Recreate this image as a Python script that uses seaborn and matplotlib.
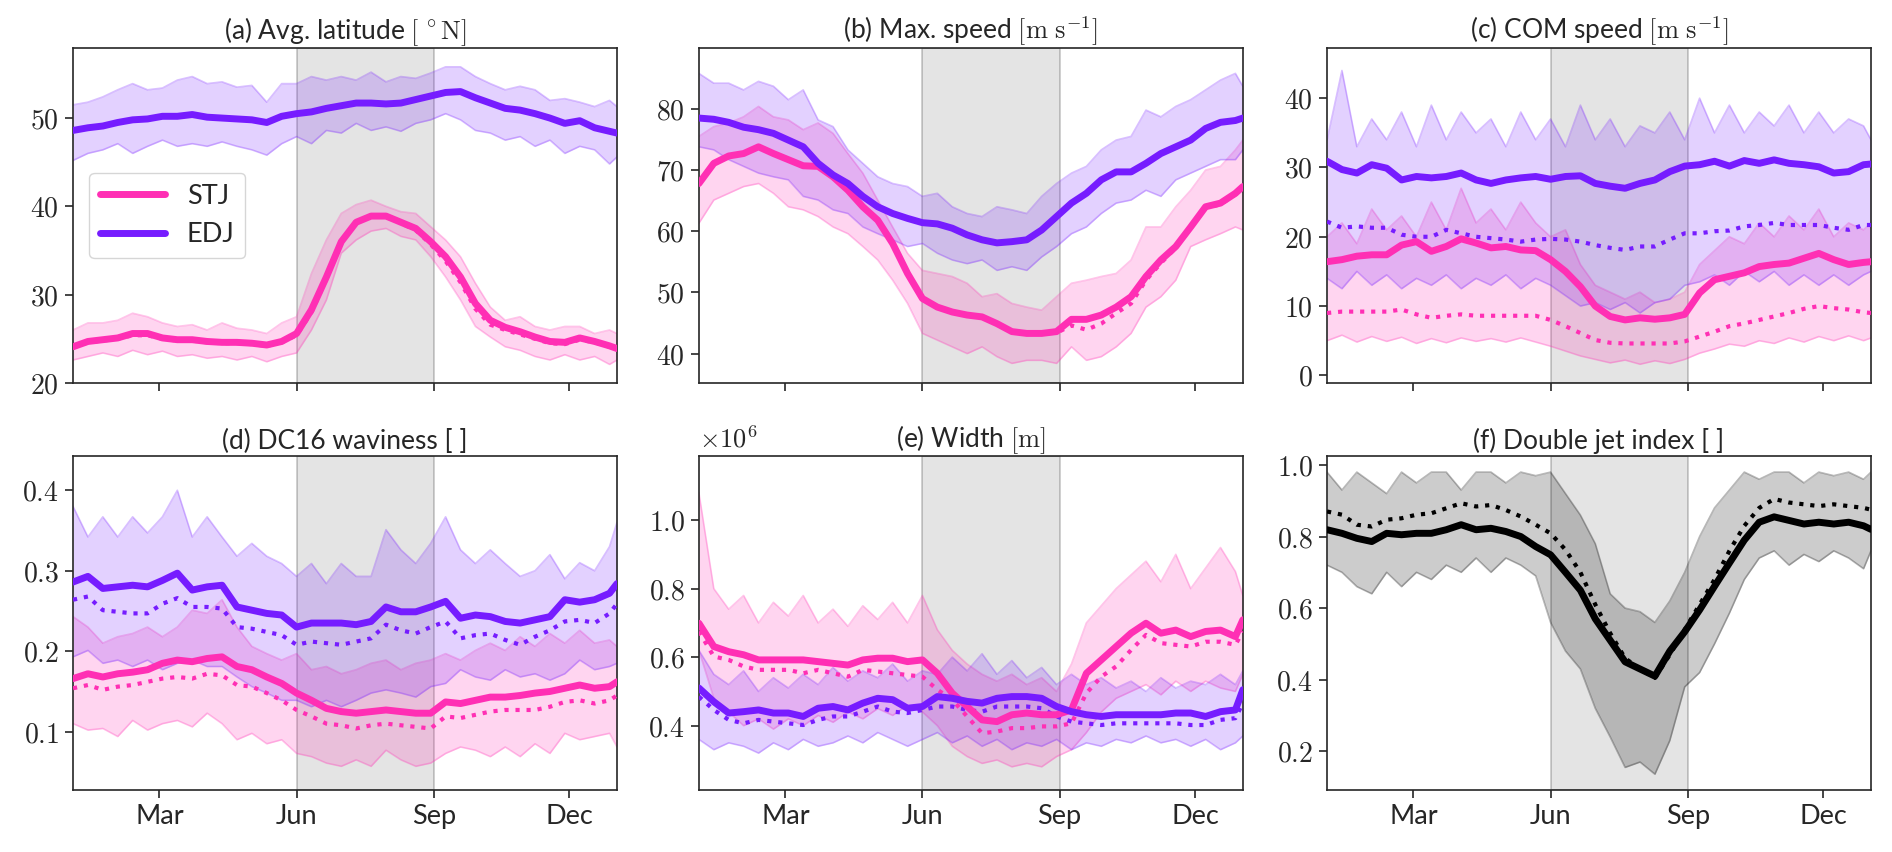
import matplotlib
matplotlib.use('Agg')
import matplotlib.pyplot as plt
from matplotlib.lines import Line2D
from matplotlib.ticker import FormatStrFormatter
import seaborn as sns
import pandas as pd

# Day of year sampled every ~10 days
days = [2, 12, 22, 32, 42, 52, 62, 72, 82, 92, 102, 112, 122, 132, 142, 152, 162, 172, 182,
        192, 202, 212, 222, 232, 242, 252, 262, 272, 282, 292, 302, 312, 322, 332, 342, 352, 362, 367]
month_ticks = [60, 152, 244, 335]
month_labels = ['Mar', 'Jun', 'Sep', 'Dec']
season = (152, 244)

# (a) average latitude
stj_lat_mean = [24.1, 24.7, 24.9, 25.1, 25.6, 25.6, 25.1, 24.9, 24.9, 24.7, 24.6, 24.6, 24.5, 24.3, 24.7, 25.6, 28.3, 32.0, 36.0,
                38.2, 38.9, 38.9, 38.2, 37.5, 36.0, 34.3, 32.0, 29.0, 27.1, 26.3, 25.8, 25.2, 24.7, 24.6, 25.1, 24.7, 24.2, 23.9]
stj_lat_med = [24.0, 24.6, 24.8, 25.0, 25.4, 25.4, 25.0, 24.8, 24.8, 24.6, 24.5, 24.5, 24.4, 24.2, 24.6, 25.4, 28.0, 31.8, 35.9,
               38.2, 38.9, 38.9, 38.1, 37.3, 35.7, 33.8, 31.4, 28.4, 26.6, 26.0, 25.5, 25.0, 24.5, 24.4, 24.9, 24.6, 24.1, 23.8]
stj_lat_hi = [26.0, 26.8, 26.8, 27.1, 27.9, 27.5, 26.8, 26.4, 26.6, 26.0, 26.8, 26.2, 26.0, 25.6, 26.8, 27.5, 32.4, 36.2, 39.2,
              40.2, 40.7, 40.0, 39.4, 39.2, 37.7, 36.2, 34.3, 31.3, 28.6, 27.1, 27.5, 26.4, 26.0, 26.4, 26.4, 25.6, 26.0, 25.6]
stj_lat_lo = [22.6, 23.0, 23.4, 23.0, 23.7, 23.2, 23.6, 23.0, 23.2, 22.8, 23.0, 22.6, 23.0, 22.4, 23.0, 23.4, 26.0, 29.4, 34.7,
              36.2, 37.2, 37.5, 36.6, 36.2, 34.3, 32.0, 29.4, 26.4, 25.2, 24.1, 23.7, 23.0, 22.6, 23.2, 22.6, 23.0, 22.1, 22.6]
edj_lat_mean = [48.6, 48.9, 49.1, 49.5, 49.8, 49.9, 50.2, 50.2, 50.4, 50.1, 50.0, 49.9, 49.8, 49.5, 50.2, 50.5, 50.7, 51.1, 51.4,
                51.7, 51.7, 51.6, 51.7, 52.1, 52.5, 52.9, 53.0, 52.3, 51.7, 51.1, 50.9, 50.5, 50.0, 49.4, 49.7, 48.9, 48.5, 48.3]
edj_lat_med = edj_lat_mean
edj_lat_hi = [51.5, 51.8, 52.4, 53.2, 53.9, 53.2, 53.4, 54.3, 54.7, 53.9, 54.1, 53.5, 53.7, 51.8, 53.9, 53.9, 54.7, 54.3, 54.7,
              54.3, 55.2, 54.1, 54.7, 54.5, 55.1, 55.8, 55.8, 54.7, 53.9, 53.2, 53.6, 53.2, 52.0, 52.2, 51.8, 51.3, 52.0, 51.3]
edj_lat_lo = [45.2, 46.0, 46.4, 47.1, 46.0, 46.8, 47.5, 46.8, 47.1, 46.8, 47.3, 46.8, 46.4, 45.8, 47.1, 47.9, 47.1, 48.6, 48.3,
              49.4, 48.6, 49.0, 48.5, 49.4, 49.8, 50.5, 49.8, 48.6, 48.3, 47.5, 47.9, 46.8, 47.5, 46.0, 46.8, 46.4, 44.8, 45.6]

# (b) max speed
stj_spd_mean = [67.8, 71.1, 72.3, 72.7, 73.8, 72.7, 71.7, 70.7, 70.6, 68.9, 66.7, 64.0, 61.8, 58.0, 53.1, 49.0, 47.6, 46.8, 46.3,
                46.0, 44.9, 43.6, 43.3, 43.3, 43.6, 45.6, 45.6, 46.3, 47.6, 49.3, 52.6, 55.3, 57.5, 60.7, 64.0, 64.6, 66.2, 67.3]
stj_spd_med = [67.8, 71.1, 72.3, 72.7, 73.8, 72.7, 71.7, 70.7, 70.6, 68.9, 66.7, 64.0, 61.8, 58.0, 53.1, 49.0, 47.6, 46.8, 46.3,
               46.0, 44.9, 43.6, 43.3, 43.3, 43.4, 44.6, 43.9, 44.9, 46.6, 48.2, 52.0, 54.8, 57.3, 60.5, 63.8, 64.4, 66.0, 67.1]
stj_spd_hi = [75.5, 77.1, 77.7, 78.7, 80.4, 78.7, 78.2, 76.6, 77.7, 76.0, 72.7, 69.5, 65.1, 60.7, 56.4, 53.6, 53.1, 52.6, 51.5,
              49.3, 49.8, 48.2, 47.6, 47.1, 49.3, 51.5, 52.0, 52.6, 53.1, 55.3, 60.7, 60.7, 64.0, 66.7, 70.0, 70.6, 73.3, 74.9]
stj_spd_lo = [61.3, 65.1, 66.2, 67.3, 67.8, 66.2, 64.0, 63.5, 62.4, 60.7, 59.6, 57.5, 55.3, 52.0, 48.2, 43.3, 42.2, 41.1, 40.0,
              41.1, 39.5, 38.4, 38.9, 38.9, 38.4, 41.1, 38.9, 39.5, 41.1, 43.3, 47.6, 49.3, 52.0, 57.5, 58.6, 59.6, 60.7, 60.2]
edj_spd_mean = [78.5, 78.3, 77.8, 77.0, 76.6, 76.0, 74.9, 73.8, 71.1, 69.2, 67.8, 65.7, 64.0, 62.9, 62.1, 61.4, 61.2, 60.5, 59.4,
                58.6, 58.1, 58.3, 58.6, 60.2, 62.4, 64.6, 66.2, 68.4, 69.7, 69.7, 71.1, 72.7, 73.8, 74.9, 76.8, 77.8, 78.1, 78.5]
edj_spd_med = edj_spd_mean
edj_spd_hi = [85.8, 84.2, 84.2, 83.1, 84.5, 83.7, 81.5, 83.1, 78.2, 77.1, 73.3, 71.1, 68.9, 67.8, 67.3, 65.7, 66.2, 64.0, 62.9,
              62.4, 64.0, 63.5, 62.9, 65.7, 67.8, 69.5, 70.6, 73.3, 74.9, 75.5, 79.8, 78.7, 80.4, 81.5, 83.1, 84.7, 85.8, 83.7]
edj_spd_lo = [73.8, 73.3, 71.7, 70.6, 69.5, 68.9, 68.4, 65.7, 65.1, 63.5, 62.9, 60.7, 59.6, 58.6, 57.5, 58.0, 56.4, 55.3, 54.7,
              55.3, 53.6, 54.2, 53.6, 55.8, 57.5, 59.6, 60.7, 62.9, 64.6, 65.1, 66.7, 65.7, 68.4, 69.5, 70.6, 71.7, 71.7, 73.3]

# (c) COM speed
stj_com_mean = [16.4, 16.7, 17.2, 17.4, 17.4, 18.8, 19.3, 17.9, 18.6, 19.7, 19.1, 18.4, 18.6, 18.1, 18.0, 16.7, 15.0, 12.8, 10.0,
                8.5, 8.0, 8.3, 8.1, 8.3, 8.8, 11.9, 13.8, 14.3, 14.8, 15.7, 16.0, 16.2, 16.9, 17.6, 16.7, 16.0, 16.3, 16.4]
stj_com_med = [9.0, 9.2, 9.2, 9.2, 9.2, 9.5, 8.8, 8.3, 8.6, 8.8, 8.6, 8.6, 8.6, 8.6, 8.6, 8.0, 7.1, 6.1, 5.1,
               4.7, 4.6, 4.6, 4.6, 4.6, 4.9, 5.6, 6.3, 7.1, 7.5, 8.0, 8.5, 9.0, 9.6, 10.0, 9.7, 9.5, 9.1, 9.0]
stj_com_hi = [20, 22, 19, 24, 21, 23, 20, 25, 21, 27, 22, 24, 21, 25, 22, 20, 21, 16, 13,
              12, 11, 12, 10.5, 11, 12, 16, 18, 20, 19, 22, 20, 23, 21, 24, 20, 22, 21, 22]
stj_com_lo = [5.0, 5.8, 4.8, 5.6, 4.9, 5.5, 4.6, 5.3, 4.7, 5.4, 4.9, 5.3, 4.8, 5.4, 4.8, 4.2, 3.5, 2.8, 2.3,
              1.8, 2.2, 1.6, 2.1, 1.7, 2.3, 3.2, 3.8, 4.5, 4.2, 5.0, 4.6, 5.4, 4.8, 5.6, 5.0, 5.7, 5.0, 5.4]
edj_com_mean = [30.9, 29.7, 29.2, 30.4, 29.9, 28.2, 28.7, 28.5, 28.7, 29.2, 28.2, 27.7, 28.2, 28.5, 28.7, 28.3, 28.7, 28.8, 27.7,
                27.3, 27.0, 27.7, 28.2, 29.4, 30.2, 30.4, 30.9, 30.2, 31.0, 30.6, 31.1, 30.6, 30.4, 30.1, 29.2, 29.4, 30.4, 30.5]
edj_com_med = [22.2, 21.3, 21.5, 21.3, 21.3, 20.3, 20.0, 20.0, 21.0, 20.5, 20.0, 19.8, 19.6, 19.3, 19.6, 19.7, 19.6, 19.3, 18.8,
               18.4, 18.1, 18.6, 18.6, 19.6, 20.5, 20.5, 20.8, 20.9, 21.5, 21.7, 22.0, 21.7, 21.7, 21.7, 21.3, 21.0, 21.7, 21.7]
edj_com_hi = [34, 44, 33, 37, 34, 38, 33, 39, 34, 38, 35, 37, 33, 38, 34, 37, 33, 39, 34,
              37, 33, 36, 35, 38, 34, 40, 35, 39, 35, 38, 36, 39, 35, 38, 35, 37, 36, 34]
edj_com_lo = [14, 12.5, 15, 13, 14.5, 12.5, 14, 13, 14.5, 12.5, 14, 13, 14.5, 12.5, 14, 13, 11.5, 10, 10.5,
              9.5, 10.5, 9, 10.5, 11, 13, 13.5, 14.5, 13, 15, 13.5, 15, 13, 14.5, 13, 14.5, 13, 14.5, 15]

# (d) DC16 waviness
stj_wav_mean = [0.166, 0.172, 0.168, 0.172, 0.174, 0.177, 0.185, 0.189, 0.187, 0.191, 0.193, 0.181, 0.177, 0.168, 0.160, 0.148,
                0.139, 0.129, 0.125, 0.123, 0.125, 0.127, 0.125, 0.123, 0.123, 0.137, 0.135, 0.139, 0.143, 0.143, 0.145, 0.148,
                0.150, 0.154, 0.158, 0.154, 0.156, 0.162]
stj_wav_med = [0.154, 0.158, 0.152, 0.156, 0.158, 0.162, 0.166, 0.168, 0.166, 0.172, 0.170, 0.158, 0.156, 0.148, 0.139, 0.127,
               0.119, 0.110, 0.108, 0.104, 0.108, 0.110, 0.108, 0.106, 0.104, 0.119, 0.117, 0.121, 0.125, 0.127, 0.127, 0.127,
               0.131, 0.137, 0.139, 0.135, 0.139, 0.145]
stj_wav_hi = [0.243, 0.230, 0.210, 0.218, 0.222, 0.230, 0.218, 0.230, 0.251, 0.247, 0.264, 0.230, 0.206, 0.197, 0.189, 0.197,
              0.177, 0.181, 0.172, 0.177, 0.185, 0.189, 0.177, 0.185, 0.189, 0.197, 0.189, 0.201, 0.210, 0.201, 0.218, 0.206,
              0.222, 0.210, 0.226, 0.210, 0.214, 0.206]
stj_wav_lo = [0.110, 0.102, 0.104, 0.094, 0.114, 0.102, 0.110, 0.114, 0.106, 0.123, 0.110, 0.090, 0.098, 0.085, 0.090, 0.073,
              0.069, 0.061, 0.057, 0.065, 0.057, 0.077, 0.065, 0.057, 0.061, 0.073, 0.081, 0.077, 0.069, 0.081, 0.069, 0.085,
              0.073, 0.098, 0.090, 0.094, 0.098, 0.081]
edj_wav_mean = [0.286, 0.293, 0.278, 0.280, 0.282, 0.280, 0.288, 0.297, 0.276, 0.280, 0.282, 0.255, 0.251, 0.247, 0.245, 0.230,
                0.235, 0.235, 0.235, 0.233, 0.237, 0.255, 0.249, 0.249, 0.255, 0.262, 0.241, 0.245, 0.243, 0.237, 0.235, 0.239,
                0.243, 0.264, 0.261, 0.264, 0.272, 0.284]
edj_wav_med = [0.264, 0.268, 0.251, 0.249, 0.247, 0.247, 0.259, 0.266, 0.255, 0.255, 0.253, 0.230, 0.228, 0.224, 0.220, 0.208,
               0.212, 0.210, 0.208, 0.212, 0.216, 0.233, 0.226, 0.222, 0.230, 0.237, 0.216, 0.220, 0.222, 0.214, 0.208, 0.218,
               0.226, 0.237, 0.239, 0.235, 0.247, 0.259]
edj_wav_hi = [0.380, 0.342, 0.367, 0.342, 0.367, 0.347, 0.367, 0.400, 0.342, 0.367, 0.342, 0.318, 0.334, 0.318, 0.309, 0.293,
              0.309, 0.284, 0.309, 0.293, 0.293, 0.351, 0.326, 0.309, 0.334, 0.367, 0.326, 0.309, 0.326, 0.309, 0.293, 0.300,
              0.320, 0.290, 0.310, 0.300, 0.330, 0.360]
edj_wav_lo = [0.193, 0.201, 0.185, 0.189, 0.181, 0.189, 0.177, 0.185, 0.189, 0.181, 0.181, 0.168, 0.156, 0.148, 0.139, 0.139,
              0.131, 0.139, 0.131, 0.139, 0.148, 0.152, 0.148, 0.143, 0.156, 0.160, 0.177, 0.168, 0.164, 0.177, 0.168, 0.172,
              0.164, 0.172, 0.189, 0.177, 0.181, 0.185]

# (e) width, in 1e6 m
stj_wid_mean = [0.699, 0.631, 0.616, 0.607, 0.592, 0.592, 0.592, 0.592, 0.587, 0.582, 0.577, 0.592, 0.597, 0.597, 0.587, 0.592,
                0.553, 0.495, 0.456, 0.417, 0.412, 0.432, 0.437, 0.432, 0.432, 0.446, 0.553, 0.592, 0.631, 0.670, 0.699, 0.670,
                0.679, 0.660, 0.675, 0.679, 0.660, 0.709]
stj_wid_med = [0.675, 0.602, 0.592, 0.573, 0.563, 0.563, 0.563, 0.553, 0.563, 0.553, 0.543, 0.563, 0.558, 0.553, 0.548, 0.543,
               0.505, 0.476, 0.427, 0.378, 0.383, 0.393, 0.393, 0.398, 0.398, 0.407, 0.495, 0.543, 0.573, 0.621, 0.665, 0.641,
               0.636, 0.631, 0.645, 0.645, 0.636, 0.675]
stj_wid_hi = [1.08, 0.80, 0.74, 0.78, 0.70, 0.76, 0.72, 0.78, 0.70, 0.74, 0.69, 0.75, 0.71, 0.76, 0.70, 0.78, 0.68, 0.62, 0.58,
              0.55, 0.53, 0.55, 0.52, 0.54, 0.50, 0.58, 0.70, 0.75, 0.80, 0.84, 0.88, 0.82, 0.90, 0.80, 0.86, 0.92, 0.85, 0.78]
stj_wid_lo = [0.62, 0.48, 0.44, 0.40, 0.42, 0.39, 0.42, 0.40, 0.43, 0.41, 0.44, 0.42, 0.45, 0.43, 0.46, 0.44, 0.40, 0.34, 0.31,
              0.29, 0.30, 0.28, 0.29, 0.28, 0.31, 0.33, 0.38, 0.44, 0.48, 0.50, 0.52, 0.49, 0.53, 0.50, 0.53, 0.51, 0.50, 0.55]
edj_wid_mean = [0.510, 0.470, 0.437, 0.441, 0.446, 0.437, 0.437, 0.427, 0.451, 0.456, 0.446, 0.466, 0.480, 0.476, 0.451, 0.456,
                0.485, 0.480, 0.471, 0.466, 0.480, 0.485, 0.485, 0.480, 0.456, 0.441, 0.432, 0.427, 0.432, 0.432, 0.432, 0.432,
                0.437, 0.437, 0.427, 0.441, 0.446, 0.505]
edj_wid_med = [0.485, 0.446, 0.417, 0.407, 0.417, 0.412, 0.407, 0.402, 0.417, 0.427, 0.427, 0.441, 0.456, 0.441, 0.437, 0.446,
               0.456, 0.456, 0.446, 0.441, 0.456, 0.456, 0.456, 0.451, 0.427, 0.412, 0.407, 0.402, 0.407, 0.407, 0.407, 0.407,
               0.407, 0.402, 0.402, 0.417, 0.422, 0.466]
edj_wid_hi = [0.62, 0.55, 0.52, 0.56, 0.50, 0.54, 0.51, 0.55, 0.52, 0.57, 0.53, 0.56, 0.54, 0.58, 0.53, 0.56, 0.55, 0.60, 0.56,
              0.61, 0.55, 0.59, 0.54, 0.57, 0.52, 0.55, 0.52, 0.54, 0.51, 0.53, 0.50, 0.54, 0.51, 0.53, 0.52, 0.55, 0.52, 0.56]
edj_wid_lo = [0.36, 0.33, 0.35, 0.34, 0.32, 0.35, 0.33, 0.36, 0.34, 0.35, 0.37, 0.35, 0.38, 0.36, 0.34, 0.36, 0.38, 0.35, 0.37,
              0.34, 0.36, 0.33, 0.35, 0.34, 0.36, 0.33, 0.35, 0.34, 0.36, 0.35, 0.37, 0.35, 0.36, 0.34, 0.36, 0.33, 0.35, 0.37]

# (f) double jet index
dji_mean = [0.819, 0.809, 0.795, 0.786, 0.809, 0.805, 0.809, 0.809, 0.819, 0.833, 0.819, 0.823, 0.814, 0.800, 0.772, 0.749,
            0.700, 0.650, 0.570, 0.510, 0.450, 0.430, 0.410, 0.480, 0.534, 0.595, 0.661, 0.726, 0.790, 0.840, 0.855, 0.845,
            0.835, 0.840, 0.835, 0.840, 0.830, 0.820]
dji_med = [0.870, 0.861, 0.833, 0.828, 0.847, 0.851, 0.861, 0.865, 0.879, 0.893, 0.884, 0.888, 0.874, 0.856, 0.833, 0.809,
           0.763, 0.700, 0.610, 0.530, 0.460, 0.430, 0.405, 0.470, 0.540, 0.610, 0.680, 0.760, 0.830, 0.880, 0.905, 0.895,
           0.890, 0.885, 0.890, 0.885, 0.880, 0.875]
dji_hi = [0.98, 0.93, 0.98, 0.95, 0.92, 0.98, 0.95, 0.98, 0.98, 0.93, 0.98, 0.98, 0.95, 0.98, 0.97, 0.98, 0.92, 0.86, 0.78,
          0.64, 0.60, 0.59, 0.56, 0.62, 0.70, 0.80, 0.88, 0.93, 0.98, 0.96, 0.98, 0.98, 0.95, 0.98, 0.97, 0.98, 0.96, 0.98]
dji_lo = [0.72, 0.70, 0.66, 0.64, 0.70, 0.66, 0.70, 0.68, 0.72, 0.70, 0.74, 0.70, 0.74, 0.72, 0.69, 0.56, 0.48, 0.43, 0.32,
          0.24, 0.155, 0.17, 0.136, 0.23, 0.38, 0.42, 0.50, 0.586, 0.68, 0.74, 0.76, 0.72, 0.75, 0.73, 0.76, 0.74, 0.71, 0.76]

colors = {'STJ': '#ff2fb4', 'EDJ': '#761cff', 'DJI': 'black'}

# Plot settings
sns.set_style('ticks')
plt.rcParams['font.family'] = ['Lato', 'DejaVu Sans']
plt.rcParams['mathtext.fontset'] = 'cm'
plt.rcParams['axes.linewidth'] = 1.2

fig = plt.figure(figsize=(18.92, 8.52), dpi=100)

panels = [
    dict(rect=[0.0386, 0.5505, 0.2875, 0.3928], title=r'(a) Avg. latitude $[\,^\circ\mathrm{N}]$',
         ylim=(20, 57.9), yticks=[20, 30, 40, 50], fmt=r'$%d$',
         series={'STJ': (stj_lat_mean, stj_lat_med, stj_lat_lo, stj_lat_hi),
                 'EDJ': (edj_lat_mean, edj_lat_med, edj_lat_lo, edj_lat_hi)}),
    dict(rect=[0.3694, 0.5505, 0.2875, 0.3928], title=r'(b) Max. speed $[\mathrm{m\ s^{-1}}]$',
         ylim=(35.2, 89.9), yticks=[40, 50, 60, 70, 80], fmt=r'$%d$',
         series={'STJ': (stj_spd_mean, stj_spd_med, stj_spd_lo, stj_spd_hi),
                 'EDJ': (edj_spd_mean, edj_spd_med, edj_spd_lo, edj_spd_hi)}),
    dict(rect=[0.7014, 0.5505, 0.2875, 0.3928], title=r'(c) COM speed $[\mathrm{m\ s^{-1}}]$',
         ylim=(-1.1, 47.2), yticks=[0, 10, 20, 30, 40], fmt=r'$%d$',
         series={'STJ': (stj_com_mean, stj_com_med, stj_com_lo, stj_com_hi),
                 'EDJ': (edj_com_mean, edj_com_med, edj_com_lo, edj_com_hi)}),
    dict(rect=[0.0386, 0.0728, 0.2875, 0.392], title='(d) DC16 waviness [ ]',
         ylim=(0.0276, 0.4426), yticks=[0.1, 0.2, 0.3, 0.4], fmt=r'$%.1f$',
         series={'STJ': (stj_wav_mean, stj_wav_med, stj_wav_lo, stj_wav_hi),
                 'EDJ': (edj_wav_mean, edj_wav_med, edj_wav_lo, edj_wav_hi)}),
    dict(rect=[0.3694, 0.0728, 0.2875, 0.392], title=r'(e) Width $[\mathrm{m}]$',
         ylim=(0.2125, 1.187), yticks=[0.4, 0.6, 0.8, 1.0], fmt=r'$%.1f$',
         series={'STJ': (stj_wid_mean, stj_wid_med, stj_wid_lo, stj_wid_hi),
                 'EDJ': (edj_wid_mean, edj_wid_med, edj_wid_lo, edj_wid_hi)}),
    dict(rect=[0.7014, 0.0728, 0.2875, 0.392], title='(f) Double jet index [ ]',
         ylim=(0.092, 1.025), yticks=[0.2, 0.4, 0.6, 0.8, 1.0], fmt=r'$%.1f$',
         series={'DJI': (dji_mean, dji_med, dji_lo, dji_hi)}),
]

for i, p in enumerate(panels):
    ax = fig.add_axes(p['rect'])

    # Summer season shading
    ax.axvspan(*season, facecolor=(0.5, 0.5, 0.5, 0.21), edgecolor=(0, 0, 0, 0.22), lw=1.2, zorder=0)

    # Long-form table for seaborn, plus the spread bands
    frames = []
    for jet, (mean, med, lo, hi) in p['series'].items():
        frames.append(pd.DataFrame({'day': days, 'value': mean, 'jet': jet, 'stat': 'mean'}))
        frames.append(pd.DataFrame({'day': days, 'value': med, 'jet': jet, 'stat': 'median'}))
        ax.fill_between(days, lo, hi, color=colors[jet], alpha=0.2, lw=0, zorder=1)
        ax.plot(days, hi, color=colors[jet], alpha=0.28, lw=1.2, zorder=1)
        ax.plot(days, lo, color=colors[jet], alpha=0.28, lw=1.2, zorder=1)
    df = pd.concat(frames, ignore_index=True)

    sns.lineplot(data=df[df['stat'] == 'median'], x='day', y='value', hue='jet', palette=colors,
                 lw=3, linestyle=':', errorbar=None, legend=False, ax=ax, zorder=3)
    sns.lineplot(data=df[df['stat'] == 'mean'], x='day', y='value', hue='jet', palette=colors,
                 lw=5, errorbar=None, legend=False, ax=ax, zorder=4)

    ax.set_xlim(2, 367)
    ax.set_ylim(*p['ylim'])
    ax.set_yticks(p['yticks'])
    ax.yaxis.set_major_formatter(FormatStrFormatter(p['fmt']))
    ax.set_xticks(month_ticks)
    if i >= 3:
        ax.set_xticklabels(month_labels)
    else:
        ax.set_xticklabels([])
    ax.tick_params(axis='both', length=6, width=1.2, pad=4)
    ax.tick_params(axis='y', labelsize=20)
    ax.tick_params(axis='x', labelsize=19.5)
    ax.set_xlabel('')
    ax.set_ylabel('')
    ax.set_title(p['title'], fontsize=19, pad=5)

    if i == 0:
        handles = [Line2D([], [], color=colors['STJ'], lw=5),
                   Line2D([], [], color=colors['EDJ'], lw=5)]
        ax.legend(handles, ['STJ', 'EDJ'], loc='center left', fontsize=19.5, handlelength=2.4,
                  borderaxespad=0.6, framealpha=0.8)
    if i == 4:
        ax.text(0, 1.01, r'$\times10^{6}$', transform=ax.transAxes, ha='left', va='bottom', fontsize=19)

fig.savefig('out.png', dpi=100)
